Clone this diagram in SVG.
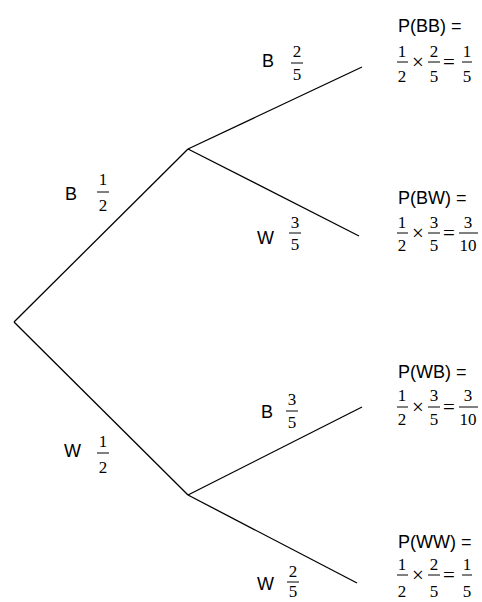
<svg xmlns="http://www.w3.org/2000/svg" width="482" height="602" viewBox="0 0 482 602">
<style>
.e{stroke:#000;stroke-width:1.3;fill:none}
.bar{stroke:#000;stroke-width:1}
.s{font-family:'Liberation Sans',Arimo,Arial,Helvetica,sans-serif;font-size:18px;fill:#000}
.n{font-family:'Liberation Serif',Tinos,'Times New Roman',Times,serif;font-size:17px;fill:#000;text-anchor:middle}
.o{font-family:'Liberation Serif',Tinos,'Times New Roman',Times,serif;font-size:21px;fill:#000;text-anchor:middle}
</style>
<rect width="482" height="602" fill="#fff"/>
<g id="connectors">
<line class="e" x1="14" y1="322" x2="188" y2="149"/>
<line class="e" x1="14" y1="322" x2="188" y2="495"/>
<line class="e" x1="188" y1="149" x2="362" y2="67"/>
<line class="e" x1="188" y1="149" x2="359" y2="236"/>
<line class="e" x1="188" y1="495" x2="362" y2="407"/>
<line class="e" x1="188" y1="495" x2="357" y2="583"/>
</g>
<g id="label-B1">
<text class="s" x="65" y="200">B</text>
<text class="n" x="103" y="185">1</text><line class="bar" x1="97" y1="192" x2="109" y2="192"/><text class="n" x="103" y="211">2</text>
</g>
<g id="label-W1">
<text class="s" x="64" y="457">W</text>
<text class="n" x="103" y="447">1</text><line class="bar" x1="97" y1="453" x2="109" y2="453"/><text class="n" x="103" y="473">2</text>
</g>
<g id="label-BB">
<text class="s" x="262" y="67">B</text>
<text class="n" x="297" y="57">2</text><line class="bar" x1="291" y1="63" x2="303" y2="63"/><text class="n" x="297" y="80">5</text>
</g>
<g id="label-BW">
<text class="s" x="257" y="244">W</text>
<text class="n" x="295" y="228">3</text><line class="bar" x1="289" y1="233" x2="301" y2="233"/><text class="n" x="295" y="250">5</text>
</g>
<g id="label-WB">
<text class="s" x="261" y="418">B</text>
<text class="n" x="292" y="405">3</text><line class="bar" x1="286" y1="411" x2="298" y2="411"/><text class="n" x="292" y="428">5</text>
</g>
<g id="label-WW">
<text class="s" x="257" y="590">W</text>
<text class="n" x="293" y="577">2</text><line class="bar" x1="287" y1="582" x2="299" y2="582"/><text class="n" x="293" y="597">5</text>
</g>
<g id="leaf-BB">
<text class="s" x="398" y="32">P(BB) =</text>
<text class="n" x="402" y="57">1</text><line class="bar" x1="397" y1="62" x2="408" y2="62"/><text class="n" x="402" y="82">2</text>
<text class="o" x="418" y="69">×</text>
<text class="n" x="434" y="57">2</text><line class="bar" x1="428" y1="62" x2="440" y2="62"/><text class="n" x="434" y="82">5</text>
<text class="o" x="449" y="69">=</text>
<text class="n" x="467" y="57">1</text><line class="bar" x1="462" y1="62" x2="472" y2="62"/><text class="n" x="467" y="82">5</text>
</g>
<g id="leaf-BW">
<text class="s" x="398" y="204">P(BW) =</text>
<text class="n" x="402" y="228">1</text><line class="bar" x1="397" y1="233" x2="408" y2="233"/><text class="n" x="402" y="251">2</text>
<text class="o" x="418" y="240">×</text>
<text class="n" x="434" y="228">3</text><line class="bar" x1="428" y1="233" x2="440" y2="233"/><text class="n" x="434" y="251">5</text>
<text class="o" x="449" y="240">=</text>
<text class="n" x="468" y="228">3</text><line class="bar" x1="459" y1="233" x2="478" y2="233"/><text class="n" x="468" y="251">10</text>
</g>
<g id="leaf-WB">
<text class="s" x="398" y="378">P(WB) =</text>
<text class="n" x="402" y="401">1</text><line class="bar" x1="397" y1="407" x2="408" y2="407"/><text class="n" x="402" y="425">2</text>
<text class="o" x="418" y="414">×</text>
<text class="n" x="434" y="401">3</text><line class="bar" x1="428" y1="407" x2="440" y2="407"/><text class="n" x="434" y="425">5</text>
<text class="o" x="449" y="414">=</text>
<text class="n" x="468" y="401">3</text><line class="bar" x1="459" y1="407" x2="478" y2="407"/><text class="n" x="468" y="425">10</text>
</g>
<g id="leaf-WW">
<text class="s" x="398" y="548">P(WW) =</text>
<text class="n" x="402" y="570">1</text><line class="bar" x1="397" y1="575" x2="408" y2="575"/><text class="n" x="402" y="597">2</text>
<text class="o" x="418" y="582">×</text>
<text class="n" x="434" y="570">2</text><line class="bar" x1="428" y1="575" x2="440" y2="575"/><text class="n" x="434" y="597">5</text>
<text class="o" x="449" y="582">=</text>
<text class="n" x="467" y="570">1</text><line class="bar" x1="462" y1="575" x2="472" y2="575"/><text class="n" x="467" y="597">5</text>
</g>
</svg>
